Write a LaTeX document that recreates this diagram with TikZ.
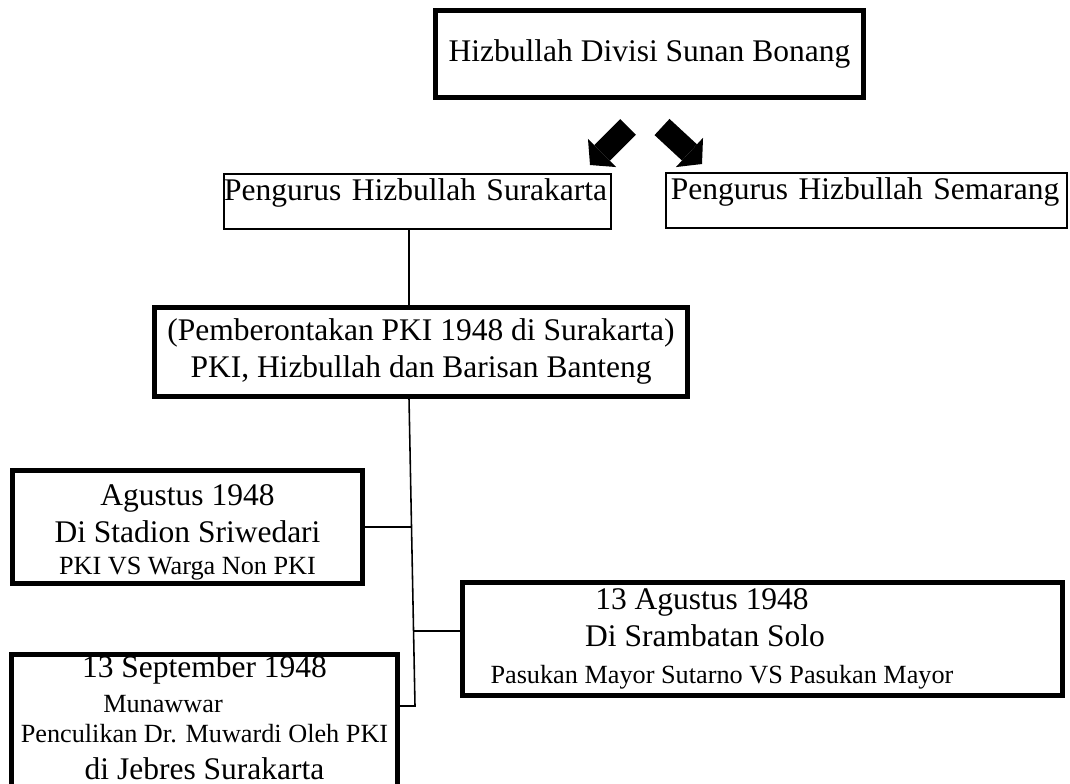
\documentclass[tikz,border=0pt]{standalone}
\usepackage{fontspec}
\setmainfont{Liberation Serif}
\usetikzlibrary{arrows.meta}
\newcommand{\kecil}{\fontsize{10}{12}\selectfont}
\begin{document}
\begin{tikzpicture}[x=0.381pt,y=-0.381pt,font=\fontsize{12}{14}\selectfont,
    thickbox/.style={draw,line width=1.9pt,inner sep=0pt,align=center},
    thinbox/.style={draw,line width=0.75pt,inner ysep=0pt,text height=10pt,text depth=11pt},
    link/.style={line width=0.6pt},
    bigarrow/.style={line width=8.4pt,-{Triangle[length=6.5pt,width=15.2pt,line width=0pt]}}]
    \useasboundingbox (0,0) rectangle (1070,783);
    \node[thickbox,minimum width=163.4pt,minimum height=33.5pt] (hizb) at (649.5,54) {Hizbullah Divisi Sunan Bonang};
    \node[thinbox,inner xsep=0pt,text width=147.4pt] (sur) at (417.5,201.5) {Pengurus Hizbullah Surakarta};
    \node[thinbox,inner xsep=1.9pt,text width=149pt] (sem) at (866.5,200.5) {Pengurus Hizbullah Semarang};
    \node[thickbox,minimum width=202.7pt,minimum height=33.9pt] (pki) at (421,351.5) {(Pemberontakan PKI 1948 di Surakarta)\\ PKI, Hizbullah dan Barisan Banteng};
    \node[thickbox,minimum width=133.7pt,minimum height=43.4pt] (agu) at (187.5,527) {\rule{0pt}{12pt}Agustus 1948\\ Di Stadion Sriwedari\\[-2pt] {\kecil PKI VS Warga Non PKI}};
    \node[thickbox,minimum width=228.6pt,minimum height=42.7pt] (sol) at (762,639) {\mbox{13 Agustus 1948\hspace{45.7pt}}\\ \mbox{Di Srambatan Solo\hspace{43.4pt}}\\ {\kecil\mbox{Pasukan Mayor Sutarno VS Pasukan Mayor\hspace{30.5pt}}}};
    \node[thickbox,anchor=north,minimum width=146.7pt,inner ysep=0.5pt,text depth=6pt] (sep) at (204.5,652) {13 September 1948\\[-0.7pt] {\kecil\mbox{Munawwar\hspace{31.6pt}}}\\[-2.6pt] {\kecil Penculikan Dr. Muwardi Oleh PKI}\\ di Jebres Surakarta};
    \coordinate (ltail) at (628,127);
    \coordinate (ltip) at (590,165);
    \coordinate (rtail) at (662,127);
    \coordinate (rtip) at (702,164);
    \draw[bigarrow] (ltail) -- (ltip);
    \draw[bigarrow] (rtail) -- (rtip);
    \coordinate (spine) at (409,0);
    \coordinate (j1) at (412,529);
    \coordinate (j2) at (414,631);
    \coordinate (jend) at (415,706);
    \draw[link] (sur.south -| spine) -- (pki.north -| spine);
    \draw[link] (pki.south -| spine) -- (jend) -- (jend -| sep.east);
    \draw[link] (agu.east) -- (agu.east -| j1);
    \draw[link] (j2) -- (j2 -| sol.west);
\end{tikzpicture}
\end{document}
